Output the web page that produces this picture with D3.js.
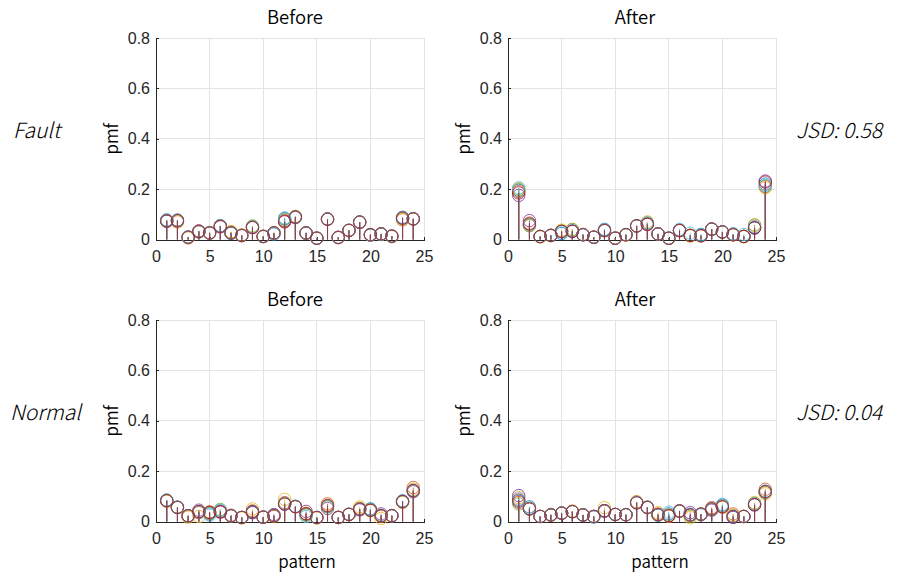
<!DOCTYPE html>
<html>
<head>
<meta charset="utf-8">
<script src="https://cdn.jsdelivr.net/npm/d3@7"></script>
<style>
  html, body { margin: 0; padding: 0; background: #ffffff; }
  svg { display: block; }
</style>
</head>
<body>
<svg id="chart" width="898" height="577"></svg>
<script>
// pattern index 1..24
const patterns = d3.range(1, 25);
const xTicks = [0, 5, 10, 15, 20, 25];
const yTicks = [0, 0.2, 0.4, 0.6, 0.8];
const yTickLabels = ["0", "0.2", "0.4", "0.6", "0.8"];
const seriesNames = ["s1", "s2", "s3", "s4", "s5", "s6", "s7"];
const seriesColors = ["#0072BD", "#D95319", "#EDB120", "#7E2F8E", "#77AC30", "#4DBEEE", "#A2142F"];
const rowLabels = ["Fault", "Normal"];
const jsdLabels = ["JSD: 0.58", "JSD: 0.04"];
const colTitles = ["Before", "After"];

// Fault, before
const faultBefore = [
  [0.077,0.077,0.009,0.030,0.026,0.055,0.024,0.016,0.049,0.012,0.022,0.083,0.088,0.024,0.005,0.081,0.008,0.036,0.069,0.017,0.020,0.013,0.088,0.082],
  [0.073,0.070,0.007,0.033,0.027,0.054,0.030,0.017,0.047,0.012,0.026,0.072,0.091,0.027,0.005,0.081,0.008,0.037,0.070,0.020,0.022,0.012,0.078,0.081],
  [0.074,0.073,0.006,0.030,0.028,0.052,0.031,0.018,0.050,0.011,0.027,0.076,0.092,0.025,0.004,0.080,0.007,0.035,0.068,0.018,0.021,0.011,0.080,0.083],
  [0.072,0.076,0.010,0.034,0.025,0.050,0.026,0.015,0.048,0.013,0.026,0.074,0.087,0.026,0.006,0.080,0.009,0.036,0.068,0.019,0.023,0.014,0.085,0.082],
  [0.075,0.074,0.009,0.031,0.026,0.053,0.027,0.016,0.054,0.012,0.025,0.080,0.090,0.026,0.005,0.081,0.008,0.036,0.069,0.018,0.022,0.013,0.084,0.082],
  [0.078,0.076,0.008,0.032,0.026,0.054,0.025,0.016,0.050,0.012,0.023,0.086,0.089,0.027,0.005,0.082,0.008,0.036,0.069,0.018,0.021,0.013,0.087,0.083],
  [0.074,0.075,0.009,0.032,0.026,0.052,0.026,0.016,0.048,0.012,0.026,0.070,0.089,0.026,0.005,0.081,0.008,0.036,0.069,0.019,0.022,0.013,0.085,0.082]
];

// Fault, after
const faultAfter = [
  [0.195,0.055,0.012,0.016,0.024,0.033,0.019,0.009,0.040,0.005,0.019,0.054,0.064,0.022,0.005,0.036,0.016,0.020,0.041,0.030,0.022,0.012,0.046,0.220],
  [0.190,0.065,0.011,0.017,0.033,0.032,0.020,0.009,0.035,0.006,0.019,0.054,0.062,0.023,0.005,0.035,0.016,0.015,0.042,0.030,0.019,0.012,0.050,0.210],
  [0.202,0.055,0.010,0.015,0.037,0.040,0.020,0.009,0.036,0.004,0.018,0.055,0.070,0.022,0.004,0.036,0.014,0.014,0.041,0.029,0.018,0.011,0.058,0.205],
  [0.175,0.075,0.012,0.016,0.032,0.033,0.019,0.009,0.036,0.005,0.019,0.054,0.060,0.022,0.005,0.036,0.016,0.015,0.041,0.030,0.019,0.012,0.046,0.232],
  [0.198,0.058,0.012,0.016,0.033,0.040,0.019,0.009,0.036,0.005,0.019,0.054,0.066,0.022,0.005,0.037,0.017,0.016,0.041,0.030,0.020,0.013,0.057,0.212],
  [0.205,0.060,0.012,0.017,0.030,0.035,0.019,0.009,0.038,0.005,0.020,0.054,0.065,0.022,0.005,0.040,0.025,0.018,0.041,0.030,0.021,0.020,0.050,0.215],
  [0.185,0.062,0.012,0.016,0.032,0.033,0.019,0.009,0.036,0.005,0.019,0.054,0.060,0.022,0.005,0.036,0.016,0.015,0.041,0.030,0.019,0.012,0.046,0.228]
];

// Normal, before
const normalBefore = [
  [0.085,0.057,0.023,0.038,0.030,0.042,0.023,0.016,0.036,0.017,0.023,0.072,0.060,0.028,0.016,0.060,0.016,0.028,0.049,0.050,0.023,0.023,0.082,0.122],
  [0.082,0.056,0.020,0.035,0.037,0.039,0.025,0.016,0.042,0.018,0.020,0.075,0.059,0.030,0.015,0.070,0.017,0.029,0.052,0.044,0.020,0.024,0.078,0.135],
  [0.080,0.055,0.017,0.020,0.038,0.040,0.022,0.014,0.050,0.016,0.023,0.088,0.058,0.033,0.014,0.065,0.015,0.028,0.058,0.043,0.012,0.022,0.076,0.128],
  [0.083,0.056,0.023,0.045,0.036,0.037,0.023,0.016,0.035,0.017,0.028,0.069,0.059,0.040,0.016,0.052,0.016,0.028,0.046,0.045,0.030,0.023,0.079,0.118],
  [0.082,0.056,0.023,0.040,0.033,0.048,0.023,0.016,0.040,0.017,0.023,0.070,0.059,0.025,0.016,0.058,0.016,0.028,0.050,0.047,0.023,0.023,0.078,0.122],
  [0.084,0.056,0.022,0.038,0.025,0.045,0.023,0.016,0.039,0.017,0.024,0.071,0.060,0.020,0.016,0.062,0.016,0.029,0.049,0.048,0.025,0.023,0.081,0.124],
  [0.083,0.056,0.023,0.039,0.036,0.039,0.023,0.016,0.039,0.017,0.023,0.069,0.059,0.031,0.016,0.063,0.016,0.028,0.049,0.045,0.023,0.023,0.079,0.123]
];

// Normal, after
const normalAfter = [
  [0.080,0.058,0.020,0.026,0.033,0.039,0.026,0.018,0.043,0.028,0.027,0.076,0.057,0.025,0.030,0.041,0.028,0.027,0.048,0.065,0.018,0.020,0.068,0.120],
  [0.076,0.052,0.020,0.026,0.034,0.040,0.026,0.020,0.043,0.028,0.027,0.078,0.055,0.030,0.022,0.042,0.025,0.030,0.055,0.058,0.030,0.020,0.070,0.128],
  [0.095,0.050,0.020,0.025,0.033,0.042,0.025,0.020,0.055,0.027,0.027,0.078,0.056,0.035,0.021,0.040,0.015,0.029,0.050,0.057,0.025,0.019,0.075,0.110],
  [0.103,0.050,0.020,0.028,0.033,0.039,0.026,0.020,0.040,0.028,0.027,0.074,0.056,0.027,0.023,0.043,0.035,0.029,0.045,0.060,0.016,0.020,0.066,0.118],
  [0.070,0.050,0.020,0.026,0.033,0.039,0.026,0.020,0.043,0.028,0.027,0.076,0.056,0.027,0.025,0.041,0.020,0.029,0.050,0.060,0.022,0.020,0.072,0.115],
  [0.090,0.052,0.020,0.026,0.034,0.039,0.026,0.018,0.043,0.028,0.027,0.075,0.056,0.027,0.037,0.041,0.026,0.029,0.050,0.068,0.020,0.020,0.070,0.120],
  [0.085,0.050,0.020,0.026,0.033,0.039,0.026,0.020,0.043,0.028,0.027,0.074,0.056,0.027,0.023,0.041,0.026,0.029,0.050,0.058,0.020,0.020,0.066,0.118]
];

const panelData = [[faultBefore, faultAfter], [normalBefore, normalAfter]];

// layout
const svg = d3.select("#chart");
const axisColor = "#262626";
const gridColor = "#e3e3e3";
const tickFont = "'Liberation Sans', Arial, sans-serif";
const labelFont = "'Noto Sans CJK KR', 'Noto Sans', sans-serif";
const labelWeight = 350;
const sideWeight = 300;
const colLeft = [156, 508];
const rowTop = [38, 320];
const plotW = 268;
const plotH = 201.5;
const titleX = [295, 635];
const patternX = [307, 660];

rowLabels.forEach((rowName, r) => {
  colTitles.forEach((title, c) => {
    const left = colLeft[c], top = rowTop[r];
    const x = d3.scaleLinear().domain([0, 25]).range([0, plotW]);
    const y = d3.scaleLinear().domain([0, 0.8]).range([plotH, 0]);
    const g = svg.append("g").attr("transform", `translate(${left},${top})`);

    // grid
    g.append("g").selectAll("line").data(xTicks.filter(d => d > 0)).join("line")
      .attr("x1", d => x(d)).attr("x2", d => x(d))
      .attr("y1", 0).attr("y2", plotH)
      .attr("stroke", gridColor).attr("stroke-width", 1)
      .attr("shape-rendering", "crispEdges");
    g.append("g").selectAll("line").data(yTicks.filter(d => d > 0)).join("line")
      .attr("x1", 0).attr("x2", plotW)
      .attr("y1", d => y(d)).attr("y2", d => y(d))
      .attr("stroke", gridColor).attr("stroke-width", 1)
      .attr("shape-rendering", "crispEdges");

    // axes
    const xAxis = d3.axisBottom(x).tickValues(xTicks).tickFormat(d3.format("d"))
      .tickSizeInner(-3).tickSizeOuter(0).tickPadding(11);
    const yAxis = d3.axisLeft(y).tickValues(yTicks)
      .tickFormat((d, i) => yTickLabels[i])
      .tickSizeInner(-3).tickSizeOuter(0).tickPadding(6);

    const gx = g.append("g").attr("transform", `translate(0,${plotH})`).call(xAxis);
    const gy = g.append("g").call(yAxis);
    [gx, gy].forEach(a => {
      a.select(".domain").attr("stroke", axisColor).attr("stroke-width", 1)
        .attr("shape-rendering", "crispEdges");
      a.selectAll(".tick line").attr("stroke", axisColor).attr("shape-rendering", "crispEdges");
      a.selectAll(".tick text").attr("fill", axisColor)
        .style("font-family", tickFont).style("font-size", "16px");
    });

    // stems and markers
    const data = panelData[r][c];
    data.forEach((vals, s) => {
      const sg = g.append("g").attr("class", "series-" + seriesNames[s]);
      sg.selectAll("line").data(vals).join("line")
        .attr("x1", (d, i) => x(patterns[i])).attr("x2", (d, i) => x(patterns[i]))
        .attr("y1", y(0)).attr("y2", d => y(d))
        .attr("stroke", seriesColors[s]).attr("stroke-width", 0.8);
      sg.selectAll("circle").data(vals).join("circle")
        .attr("cx", (d, i) => x(patterns[i])).attr("cy", d => y(d))
        .attr("r", 6.2)
        .attr("fill", "none")
        .attr("stroke", seriesColors[s]).attr("stroke-width", 0.8);
    });

    // title
    svg.append("text")
      .attr("x", titleX[c]).attr("y", top - 14)
      .attr("text-anchor", "middle")
      .attr("fill", "#000")
      .style("font-family", labelFont).style("font-weight", labelWeight)
      .style("font-size", "18.5px")
      .text(title);

    // y label
    svg.append("text")
      .attr("transform", `translate(${left - 38},${top + plotH / 2}) rotate(-90)`)
      .attr("text-anchor", "middle")
      .attr("fill", "#000")
      .style("font-family", labelFont).style("font-weight", labelWeight)
      .style("font-size", "17px")
      .text("pmf");

    // x label on the bottom row
    if (r === 1) {
      svg.append("text")
        .attr("x", patternX[c]).attr("y", top + plotH + 46)
        .attr("text-anchor", "middle")
        .attr("fill", "#000")
        .style("font-family", labelFont).style("font-weight", labelWeight)
        .style("font-size", "17px")
        .text("pattern");
    }
  });

  // row label and divergence score
  svg.append("text")
    .attr("x", r === 0 ? 13 : 10).attr("y", rowTop[r] + 100)
    .attr("fill", "#000")
    .style("font-family", labelFont).style("font-weight", sideWeight)
    .style("font-size", "21px").style("font-style", "italic")
    .text(rowName);
  svg.append("text")
    .attr("x", 796).attr("y", rowTop[r] + 100)
    .attr("fill", "#000")
    .style("font-family", labelFont).style("font-weight", sideWeight)
    .style("font-size", "21px").style("font-style", "italic")
    .text(jsdLabels[r]);
});
</script>
</body>
</html>
